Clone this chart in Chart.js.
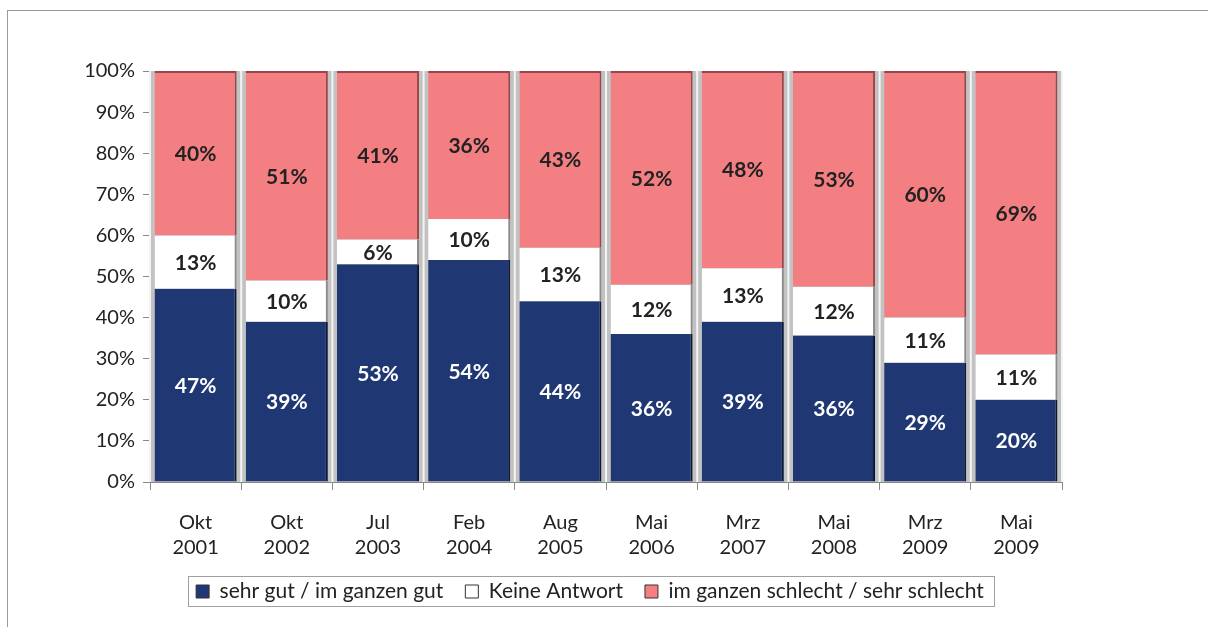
<!DOCTYPE html>
<html>
<head>
<meta charset="utf-8">
<script src="https://cdn.jsdelivr.net/npm/chart.js@4.4.1/dist/chart.umd.min.js"></script>
<style>
html, body { margin: 0; padding: 0; background: #fff; overflow: hidden; }
#wrap { position: relative; width: 1208px; height: 627px; }
#frame { position: absolute; left: 7px; top: 10px; width: 1300px; height: 700px;
         border-top: 1px solid #9a9a9a; border-left: 1px solid #9a9a9a; }
canvas { position: absolute; left: 0; top: 0; }
</style>
</head>
<body>
<div id="wrap">
  <div id="frame"></div>
  <canvas id="chart" width="1208" height="627"></canvas>
</div>
<script>
// data
var months = ['Okt', 'Okt', 'Jul', 'Feb', 'Aug', 'Mai', 'Mrz', 'Mai', 'Mrz', 'Mai'];
var years = ['2001', '2002', '2003', '2004', '2005', '2006', '2007', '2008', '2009', '2009'];
var gut = [47, 39, 53, 54, 44, 36, 39, 36, 29, 20];
var keine = [13, 10, 6, 10, 13, 12, 13, 12, 11, 11];
var schlecht = [40, 51, 41, 36, 43, 52, 48, 53, 60, 69];
var seriesNames = ['sehr gut / im ganzen gut', 'Keine Antwort', 'im ganzen schlecht / sehr schlecht'];

var labels = months.map(function (m, i) { return [m, years[i]]; });

// 100% stacked, like the original
function share(arr) {
    return arr.map(function (v, i) {
        var total = gut[i] + keine[i] + schlecht[i];
        return v * 100 / total;
    });
}

Chart.defaults.font.family = 'Lato';
Chart.defaults.font.size = 20;
Chart.defaults.color = '#222';

var backPlugin = {
    id: 'backStrips',
    beforeDatasetsDraw: function (chart) {
        var ctx = chart.ctx, x = chart.scales.x, y = chart.scales.y;
        var top = y.getPixelForValue(100), bottom = y.getPixelForValue(0);
        ctx.save();
        ctx.fillStyle = '#c2c2c2';
        ctx.fillRect(x.left, top, x.right - x.left, bottom - top);
        var step = (x.right - x.left) / months.length;
        ctx.fillStyle = '#f4f4f4';
        for (var i = 0; i <= months.length; i++) {
            var px = x.left + i * step;
            ctx.fillRect(px - 1, top, 2, bottom - top);
        }
        ctx.restore();
    }
};

var labelPlugin = {
    id: 'segLabels',
    afterDatasetsDraw: function (chart) {
        var ctx = chart.ctx;
        ctx.save();
        ctx.font = 'bold 21px Lato';
        ctx.textAlign = 'center';
        ctx.textBaseline = 'middle';
        chart.data.datasets.forEach(function (ds, i) {
            var meta = chart.getDatasetMeta(i);
            meta.data.forEach(function (bar, j) {
                ctx.fillStyle = ds.labelColor;
                ctx.fillText(ds.raw[j] + '%', bar.x, (bar.y + bar.base) / 2 + 1);
            });
        });
        ctx.restore();
    }
};

var legendPlugin = {
    id: 'legendFrame',
    afterLayout: function (chart) {
        var lg = chart.legend;
        var dx = 590 - (lg.left + lg.right) / 2;
        lg.left += dx;
        lg.right += dx;
    },
    afterDraw: function (chart) {
        var boxes = chart.legend.legendHitBoxes;
        if (!boxes || !boxes.length) return;
        var l = Infinity, r = -Infinity, t = Infinity, b = -Infinity;
        boxes.forEach(function (h) {
            l = Math.min(l, h.left); r = Math.max(r, h.left + h.width);
            t = Math.min(t, h.top); b = Math.max(b, h.top + h.height);
        });
        var ctx = chart.ctx;
        ctx.save();
        ctx.strokeStyle = '#a0a0a0';
        ctx.lineWidth = 1;
        ctx.strokeRect(Math.round(l - 8) + 0.5, Math.round(t - 5) + 0.5, Math.round(r - l + 18), Math.round(b - t + 9));
        ctx.restore();
    }
};

var ctx = document.getElementById('chart').getContext('2d');
var chart = new Chart(ctx, {
    type: 'bar',
    data: {
        labels: labels,
        datasets: [{
            label: seriesNames[0],
            data: share(gut),
            raw: gut,
            labelColor: '#ffffff',
            backgroundColor: '#1f3772',
            borderColor: '#0c1738',
            borderWidth: { top: 0, right: 2, bottom: 0, left: 0 },
            borderSkipped: false,
            barPercentage: 0.9,
            categoryPercentage: 1.0
        }, {
            label: seriesNames[1],
            data: share(keine),
            raw: keine,
            labelColor: '#222222',
            backgroundColor: '#ffffff',
            borderColor: '#8a8a8a',
            borderWidth: { top: 0, right: 2, bottom: 0, left: 0 },
            borderSkipped: false,
            barPercentage: 0.9,
            categoryPercentage: 1.0
        }, {
            label: seriesNames[2],
            data: share(schlecht),
            raw: schlecht,
            labelColor: '#222222',
            backgroundColor: '#f37f82',
            borderColor: '#9a4548',
            borderWidth: { top: 2, right: 2, bottom: 0, left: 0 },
            borderSkipped: false,
            barPercentage: 0.9,
            categoryPercentage: 1.0
        }]
    },
    options: {
        responsive: false,
        animation: false,
        layout: { padding: { left: 10, right: 146, top: 71, bottom: 15 } },
        plugins: {
            tooltip: { enabled: false },
            legend: {
                position: 'bottom',
                labels: {
                    boxWidth: 13,
                    boxHeight: 13,
                    padding: 22,
                    font: { size: 21 },
                    color: '#222',
                    generateLabels: function (chart) {
                        var items = Chart.defaults.plugins.legend.labels.generateLabels(chart);
                        items.forEach(function (it) {
                            it.strokeStyle = '#333';
                            it.lineWidth = 1;
                        });
                        return items;
                    }
                }
            }
        },
        scales: {
            x: {
                stacked: true,
                afterFit: function (s) { s.height = 77; },
                grid: { offset: true, drawOnChartArea: false, tickLength: 8, color: '#888' },
                border: { color: '#888' },
                ticks: { padding: 20, color: '#222', font: { size: 20, lineHeight: 1.25 }, maxRotation: 0 }
            },
            y: {
                stacked: true,
                min: 0,
                max: 100,
                afterFit: function (s) { s.width = 140; },
                grid: { drawOnChartArea: false, tickLength: 7, color: '#888' },
                border: { color: '#888' },
                ticks: {
                    stepSize: 10,
                    padding: 8,
                    color: '#222',
                    font: { size: 20 },
                    callback: function (v) { return v + '%'; }
                }
            }
        }
    },
    plugins: [backPlugin, labelPlugin, legendPlugin]
});
</script>
</body>
</html>
